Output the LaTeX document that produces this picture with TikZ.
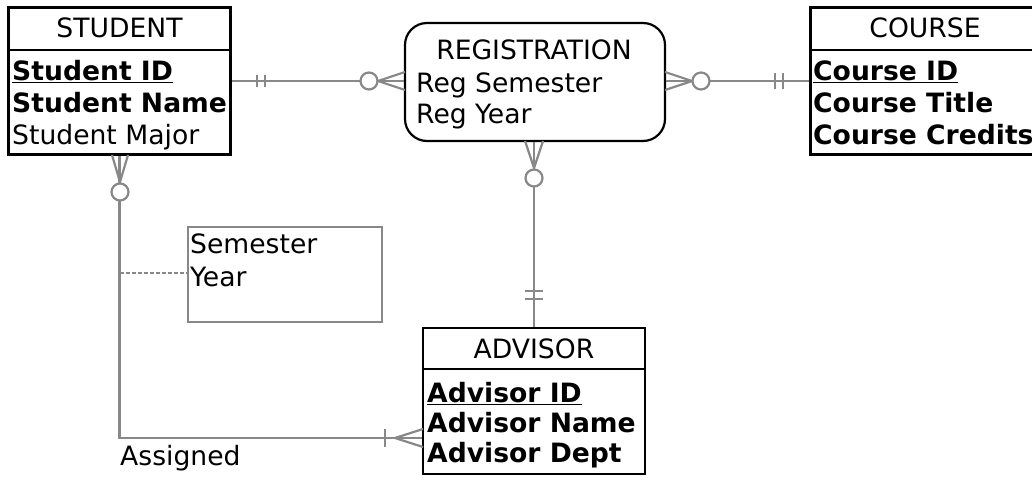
\documentclass[tikz,border=0pt]{standalone}
\usepackage{fontspec}
\setmainfont{DejaVu Sans}
\usepackage{xcolor}
\definecolor{ink}{HTML}{000000}
\definecolor{linkgrey}{HTML}{888888}

\begin{document}
\begin{tikzpicture}[x=1pt, y=-1pt, font=\fontsize{26.6}{31}\selectfont,
  entity/.style={draw=ink, line width=2.2pt, inner sep=0pt},
  notebox/.style={draw=linkgrey, line width=2pt, inner sep=0pt},
  link/.style={draw=linkgrey, line width=2.2pt},
  optring/.style={circle, draw=linkgrey, line width=2.2pt, fill=white,
                  minimum size=17pt, inner sep=0pt},
  head/.style={anchor=base, inner sep=0pt, text=ink},
  attr/.style={anchor=base west, inner sep=0pt, text=ink},
  keyattr/.style={attr, font=\fontsize{26.6}{31}\selectfont\bfseries}]

\useasboundingbox (0,0) rectangle (1032,477);

% entities
\node[entity, minimum width=222pt, minimum height=147pt] (student) at (119.5,81) {};
\draw[entity] (student.west |- 0,50) -- (student.east |- 0,50);
\node[head] (studentT) at (119.5,37) {STUDENT};
\node[keyattr] (studentK) at (12,80) {\underline{Student ID}};
\node[keyattr] (studentN) at (12,112) {Student Name};
\node[attr] (studentM) at (12,144) {Student Major};

\node[entity, minimum width=230pt, minimum height=147pt] (course) at (925.5,81) {};
\draw[entity] (course.west |- 0,50) -- (course.east |- 0,50);
\node[head] (courseT) at (925,37) {COURSE};
\node[keyattr] (courseK) at (813,80) {\underline{Course ID}};
\node[keyattr] (courseN) at (813,112) {Course Title};
\node[keyattr] (courseC) at (813,144) {Course Credits};

\node[entity, rounded corners=22pt, minimum width=260pt, minimum height=118pt]
  (reg) at (535,82) {};
\node[head] (regT) at (534,59) {REGISTRATION};
\node[attr] (regS) at (416,92) {Reg Semester};
\node[attr] (regY) at (416,123) {Reg Year};

\node[entity, minimum width=222pt, minimum height=146pt] (advisor) at (534,401) {};
\draw[entity] (advisor.west |- 0,369) -- (advisor.east |- 0,369);
\node[head] (advisorT) at (534,358) {ADVISOR};
\node[keyattr] (advisorK) at (427,402) {\underline{Advisor ID}};
\node[keyattr] (advisorN) at (427,432) {Advisor Name};
\node[keyattr] (advisorD) at (427,462) {Advisor Dept};

% relationship attributes
\node[notebox, minimum width=194pt, minimum height=95pt] (note) at (285,274.5) {};
\node[attr] (noteS) at (190,253) {Semester};
\node[attr] (noteY) at (190,286) {Year};

% student -- registration
\draw[link] (student.east) -- (student.east -| reg.west);
\foreach \x in {257,265}{\draw[link] (\x,75) -- (\x,87);}
\draw[link] (405,72) -- (378,81) -- (405,90);
\node[optring] (ringS) at (369,81) {};

% registration -- course
\draw[link] (reg.east |- course.west) -- (course.west);
\foreach \x in {775,783}{\draw[link] (\x,73) -- (\x,89);}
\draw[link] (665,72) -- (692,81) -- (665,90);
\node[optring] (ringC) at (701,81) {};

% registration -- advisor
\draw[link] (advisor.north |- reg.south) -- (advisor.north);
\foreach \y in {291,299}{\draw[link] (525,\y) -- (543,\y);}
\draw[link] (525,141) -- (534,168) -- (543,141);
\node[optring] (ringA) at (534,178) {};

% student -- advisor
\coordinate (assignto) at (advisor.west |- 0,438);
\coordinate (assignmid) at (120,273);
\draw[link] (student.south) |- (assignto);
\draw[link] (112,155) -- (120,182) -- (128,155);
\node[optring] (ringV) at (120,192) {};
\draw[link] (385,429) -- (385,447);
\draw[link] (423,429) -- (395,438) -- (423,447);
\draw[link, line width=1.4pt, dash pattern=on 4pt off 2pt] (assignmid) -- (note.west |- assignmid);
\node[attr] (assignedL) at (120,465) {Assigned};

\end{tikzpicture}
\end{document}
